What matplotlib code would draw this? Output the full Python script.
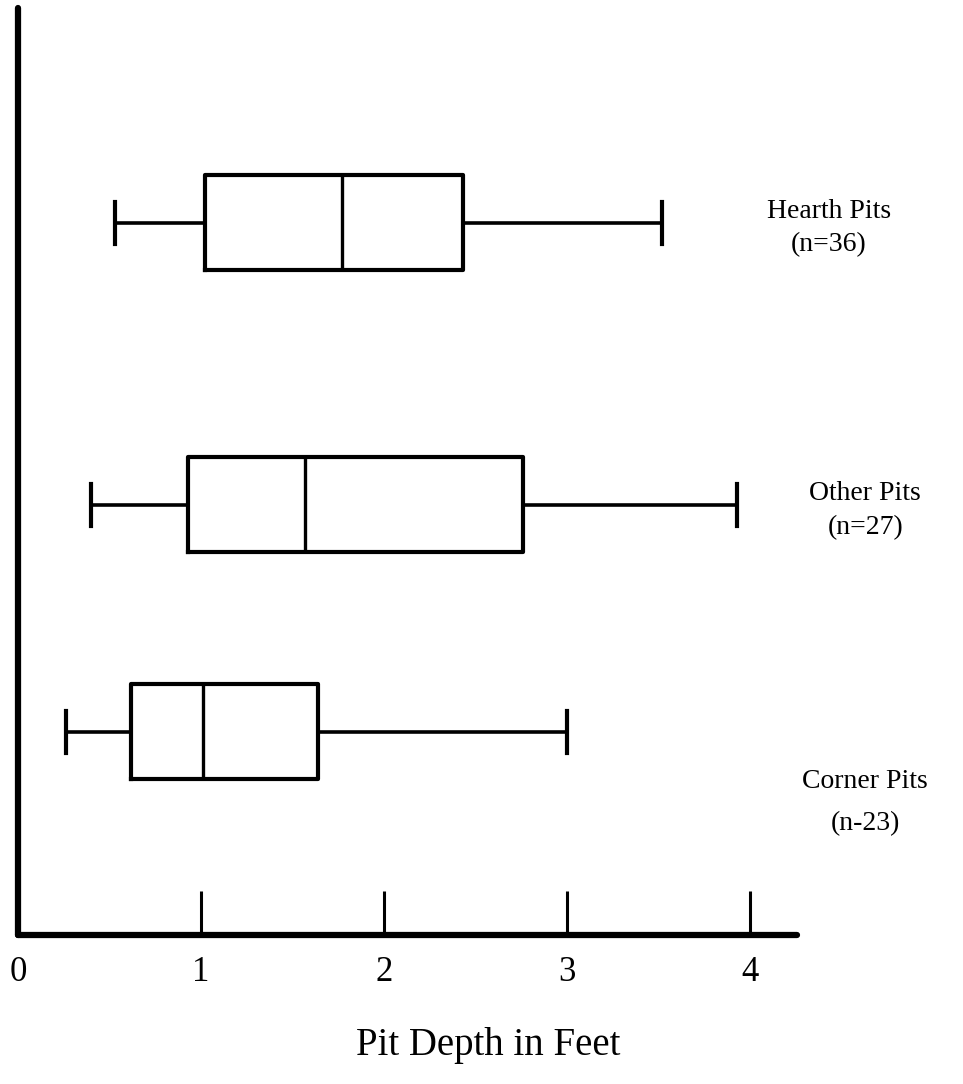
import matplotlib
matplotlib.use("Agg")
import matplotlib.pyplot as plt

# Pit depth summaries (feet): lower whisker, Q1, median, Q3, upper whisker
groups = ["Hearth Pits", "Other Pits", "Corner Pits"]
counts = ["(n=36)", "(n=27)", "(n-23)"]
whislo = [0.53, 0.40, 0.26]
q1 = [1.02, 0.93, 0.62]
med = [1.77, 1.57, 1.01]
q3 = [2.43, 2.76, 1.64]
whishi = [3.52, 3.93, 3.00]
xticks = [0, 1, 2, 3, 4]
xlabel = "Pit Depth in Feet"

plt.rcParams["font.family"] = ["Liberation Serif", "DejaVu Serif"]

W, H = 963, 1084
fig = plt.figure(figsize=(W / 100, H / 100), dpi=100)
left_px, right_px, bottom_px, top_px = 18, 797, 935, 8
ax = fig.add_axes([left_px / W, (H - bottom_px) / H,
                   (right_px - left_px) / W, (bottom_px - top_px) / H])

unit = 183.0  # pixels per foot
ax.set_xlim(0, (right_px - left_px) / unit)
ax.set_ylim(0, bottom_px - top_px)

# vertical layout (pixel units above the x axis)
positions = [712.5, 430.5, 203.5]
label_xy = [(4.43, 724, 690), (4.63, 441, 407), (4.63, 153, 111)]

stats = []
for i, g in enumerate(groups):
    stats.append(dict(label=g, whislo=whislo[i], q1=q1[i], med=med[i],
                      q3=q3[i], whishi=whishi[i], fliers=[]))

ax.bxp(stats, positions=positions, widths=95, capwidths=42,
       orientation="horizontal", showfliers=False, manage_ticks=False,
       boxprops=dict(color="black", linewidth=3.0),
       whiskerprops=dict(color="black", linewidth=2.6),
       capprops=dict(color="black", linewidth=3.0),
       medianprops=dict(color="black", linewidth=2.4))

for (x, y1, y2), g, n in zip(label_xy, groups, counts):
    ax.text(x, y1, g, ha="center", va="center", fontsize=20, clip_on=False)
    ax.text(x, y2, n, ha="center", va="center", fontsize=20, clip_on=False)

for s in ["top", "right"]:
    ax.spines[s].set_visible(False)
for s in ["left", "bottom"]:
    ax.spines[s].set_linewidth(4.5)
    ax.spines[s].set_capstyle("round")

ax.set_yticks([])
ax.set_xticks(xticks)
ax.set_xticklabels([str(t) for t in xticks], fontsize=25)
ax.tick_params(axis="x", direction="in", length=32, width=2.2, pad=15)
ax.xaxis.get_major_ticks()[0].tick1line.set_visible(False)

fig.text(488 / W, 1 - 1045 / H, xlabel, ha="center", va="center", fontsize=28)

fig.savefig("out.png", dpi=100, facecolor="white")
